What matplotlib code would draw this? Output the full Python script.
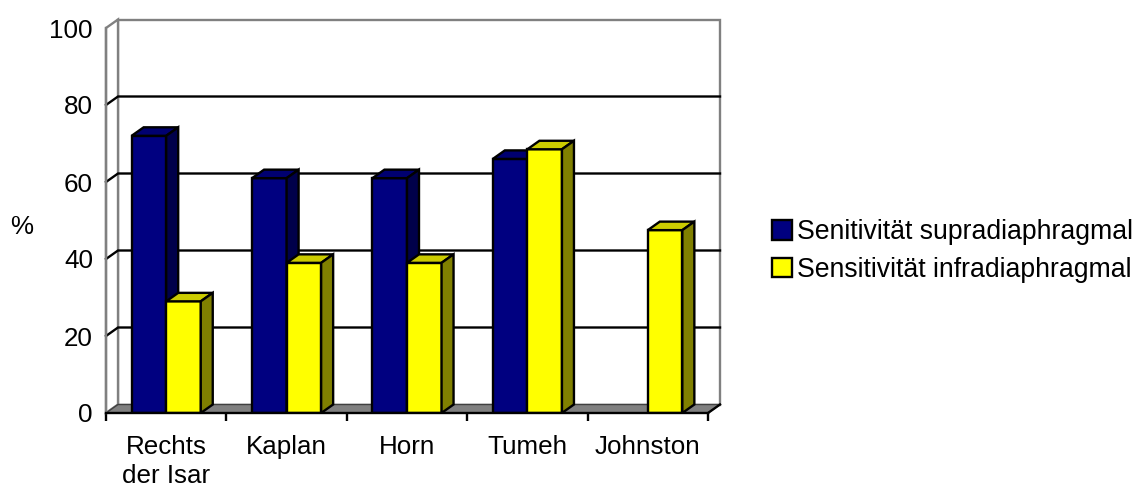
import numpy as np
import matplotlib
matplotlib.use("Agg")
import matplotlib.pyplot as plt
from matplotlib.patches import Polygon, Patch

plt.rcParams['font.family'] = ['Liberation Sans', 'DejaVu Sans']

# Data
categories = ["Rechts\nder Isar", "Kaplan", "Horn", "Tumeh", "Johnston"]
supra = [72, 61, 61, 66, np.nan]
infra = [29, 39, 39, 68.5, 47.5]
series_labels = ["Senitivität supradiaphragmal", "Sensitivität infradiaphragmal"]
y_ticks = [0, 20, 40, 60, 80, 100]

# Face colours: front, top, side
blue_faces = ("#000080", "#000070", "#00004a")
yellow_faces = ("#ffff00", "#cccc00", "#808000")

W, H, DPI = 1138, 487, 100
fig = plt.figure(figsize=(W / DPI, H / DPI), dpi=DPI)
ax = fig.add_axes([106 / W, (H - 413) / H, 602 / W, 385 / H])
ax.set_xlim(-0.5, 4.5)
ax.set_ylim(0, 100)
ax.patch.set_visible(False)

# depth of the 3-D box in data units
DX = 12 / 120.4
DY = 8.5 / 3.85
FS = 18.7
GRAY = "#808080"
LW = 1.7

x0, x1 = -0.5, 4.5

# back wall
ax.add_patch(Polygon([(x0 + DX, DY), (x1 + DX, DY), (x1 + DX, 100 + DY), (x0 + DX, 100 + DY)],
                     closed=True, facecolor="white", edgecolor=GRAY, lw=LW, zorder=0, clip_on=False))
# side wall
ax.add_patch(Polygon([(x0, 0), (x0 + DX, DY), (x0 + DX, 100 + DY), (x0, 100)],
                     closed=True, facecolor="white", edgecolor=GRAY, lw=LW, zorder=0, clip_on=False))
# gridlines on the side wall and back wall
for v in y_ticks[1:-1]:
    ax.plot([x0, x0 + DX, x1 + DX], [v, v + DY, v + DY], color="black", lw=LW,
            zorder=1, clip_on=False, solid_joinstyle="miter")
# floor
ax.add_patch(Polygon([(x0, 0), (x1, 0), (x1 + DX, DY), (x0 + DX, DY)],
                     closed=True, facecolor=GRAY, edgecolor="#404040", lw=1.0, zorder=2, clip_on=False))
ax.plot([x1, x1 + DX], [0, DY], color="black", lw=LW, zorder=2, clip_on=False)

# bars
x = np.arange(len(categories))
bw = 0.287


def add_box_faces(container, faces, z):
    for rect in container.patches:
        h = rect.get_height()
        if not np.isfinite(h):
            continue
        rx, rw = rect.get_x(), rect.get_width()
        rect.set_facecolor(faces[0])
        top = Polygon([(rx, h), (rx + rw, h), (rx + rw + DX, h + DY), (rx + DX, h + DY)],
                      closed=True, facecolor=faces[1], edgecolor="black", lw=LW,
                      zorder=z, joinstyle="miter")
        side = Polygon([(rx + rw, 0), (rx + rw + DX, DY), (rx + rw + DX, h + DY), (rx + rw, h)],
                       closed=True, facecolor=faces[2], edgecolor="black", lw=LW,
                       zorder=z, joinstyle="miter")
        ax.add_patch(top)
        ax.add_patch(side)


for i in range(len(categories)):
    z = 3 + i
    b1 = ax.bar(x[i], supra[i], bw, align="edge", color=blue_faces[0], edgecolor="black",
                lw=LW, zorder=z)
    b1.patches[0].set_x(x[i] - bw)
    add_box_faces(b1, blue_faces, z)
    b2 = ax.bar(x[i], infra[i], bw, align="edge", color=yellow_faces[0], edgecolor="black",
                lw=LW, zorder=z)
    add_box_faces(b2, yellow_faces, z)

# axes lines
for s in ("top", "right"):
    ax.spines[s].set_visible(False)
ax.spines["bottom"].set_color("black")
ax.spines["bottom"].set_linewidth(LW)
ax.spines["bottom"].set_zorder(20)
ax.spines["left"].set_color(GRAY)
ax.spines["left"].set_linewidth(LW)

ax.set_yticks(y_ticks)
ax.set_yticklabels([str(v) for v in y_ticks], fontsize=FS)
ax.tick_params(axis="y", length=0, pad=9.4)

ax.set_xticks(x)
ax.set_xticklabels(categories, fontsize=FS, linespacing=1.3)
ax.set_xticks(np.arange(-0.5, 5.0, 1.0), minor=True)
ax.tick_params(axis="x", which="major", length=0, pad=15.5)
ax.tick_params(axis="x", which="minor", length=5.8, width=LW, color="black", direction="out")

fig.text(22 / W, 1 - 227 / H, "%", fontsize=FS, ha="center", va="center")

handles = [Patch(facecolor=blue_faces[0], edgecolor="black", lw=LW),
           Patch(facecolor=yellow_faces[0], edgecolor="black", lw=LW)]
fig.legend(handles, series_labels, loc="center left", bbox_to_anchor=(772 / W, 1 - 251 / H),
           frameon=False, fontsize=19.2, handlelength=0.75, handleheight=0.75,
           handletextpad=0.2, labelspacing=0.42, borderpad=0, borderaxespad=0)

fig.savefig("out.png", dpi=DPI)
